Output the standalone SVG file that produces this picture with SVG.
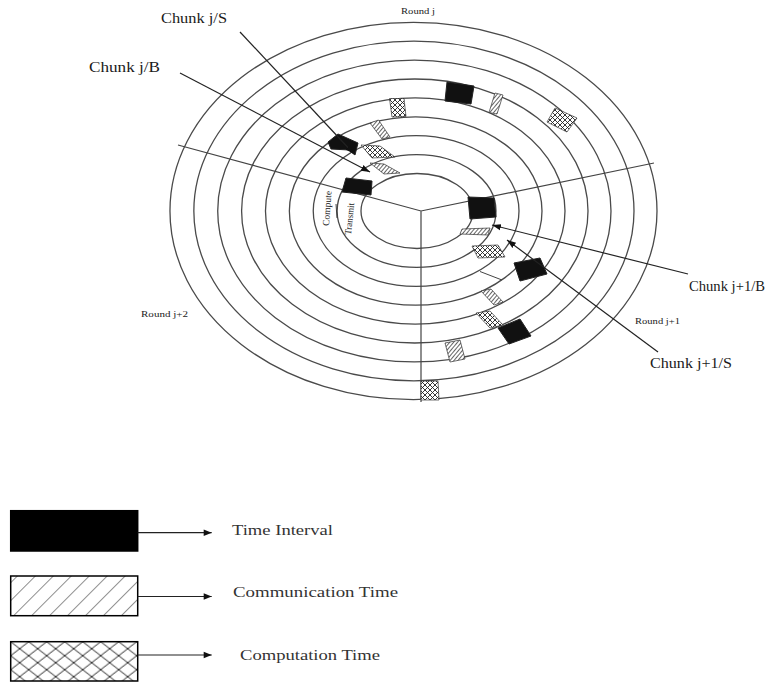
<svg xmlns="http://www.w3.org/2000/svg" width="766" height="685" viewBox="0 0 766 685">
<style>
.ring{fill:none;stroke:#4a4a4a;stroke-width:1.3}
.spoke{stroke:#444;stroke-width:1.2;fill:none}
.conn{stroke:#222;stroke-width:1.2;fill:none}
.lbl{font-family:"Liberation Serif",serif;fill:#1a1a1a}
.big{font-size:15px}
.small{font-size:8.5px}
.leg{font-size:14px;fill:#333}
.blk{fill:#111;stroke:#222;stroke-width:1}
.hat{fill:url(#hatchS);stroke:#333;stroke-width:0.7}
.crs{fill:url(#crossS);stroke:#333;stroke-width:0.7}
</style>
<defs>
<pattern id="hatchS" patternUnits="userSpaceOnUse" width="3" height="3" patternTransform="rotate(40)">
<rect width="3" height="3" fill="#fff"/>
<line x1="0" y1="0" x2="0" y2="3" stroke="#222" stroke-width="1.4"/>
</pattern>
<pattern id="crossS" patternUnits="userSpaceOnUse" width="5" height="5">
<rect width="5" height="5" fill="#fff"/>
<path d="M0,0L5,5M5,0L0,5" stroke="#222" stroke-width="0.9"/>
</pattern>
<pattern id="hatchL" patternUnits="userSpaceOnUse" width="12.7" height="12.7" patternTransform="rotate(45)">
<rect width="12.7" height="12.7" fill="#fff"/>
<line x1="0" y1="0" x2="0" y2="12.7" stroke="#222" stroke-width="1"/>
</pattern>
<pattern id="crossL" patternUnits="userSpaceOnUse" width="18" height="14" x="10.7" y="641.7">
<rect width="18" height="14" fill="#fff"/>
<path d="M0,0L18,14M18,0L0,14" stroke="#222" stroke-width="1"/>
</pattern>
<marker id="arr" viewBox="0 0 10 10" refX="10" refY="5" markerWidth="9" markerHeight="9" markerUnits="userSpaceOnUse" orient="auto">
<path d="M0,1.5L10,5L0,8.5Z" fill="#111"/>
</marker>
<marker id="arrL" viewBox="0 0 10 10" refX="10" refY="5" markerWidth="13" markerHeight="8" markerUnits="userSpaceOnUse" orient="auto">
<path d="M0,1L10,5L0,9Z" fill="#111"/>
</marker>
</defs>
<rect width="766" height="685" fill="#fff"/>

<g id="rings">
<ellipse class="ring" cx="417" cy="211" rx="56" ry="37.5"/>
<ellipse class="ring" cx="416.56" cy="211" rx="79.44" ry="56.4"/>
<ellipse class="ring" cx="416.12" cy="211" rx="102.88" ry="75.3"/>
<ellipse class="ring" cx="415.68" cy="211" rx="126.32" ry="94.2"/>
<ellipse class="ring" cx="415.24" cy="211" rx="149.76" ry="113.1"/>
<ellipse class="ring" cx="414.8" cy="211" rx="173.2" ry="132"/>
<ellipse class="ring" cx="414.36" cy="211" rx="196.64" ry="150.9"/>
<ellipse class="ring" cx="413.92" cy="211" rx="220.08" ry="169.8"/>
<ellipse class="ring" cx="413.48" cy="211" rx="243.52" ry="188.7"/>
</g>

<g id="spokes">
<path class="spoke" d="M178,145L421,211L654,163M421,211L421,402"/>
</g>

<g id="blocks">
<polygon class="blk" points="447,82 474,86 471,104 445,101"/>
<polygon class="hat" points="495,93 503,95 497,114 489,112.5"/>
<polygon class="crs" points="555,108 577,118 567,132 547,122"/>
<polygon class="crs" points="389.5,98.5 404,98.5 406,116.5 392,117"/>
<polygon class="hat" points="370,123 378.5,120 390,137 382,139"/>
<polygon class="blk" points="328,142 338,134 358,143 355,155 349,150 331,149"/>
<polygon class="crs" points="361,145 380,146 395,157 372,158"/>
<polygon class="hat" points="370,163 384,164 400,173 384,174"/>
<polygon class="blk" points="346,178 372,181 371,195 342,192"/>
<polygon class="blk" points="468,197 494,198 496,217 470,219"/>
<polygon class="hat" points="462,229 490,228 488,235 460,234"/>
<polygon class="crs" points="472,246 498,245 505,257 478,258"/>
<line x1="480" y1="271.5" x2="502" y2="280" stroke="#444" stroke-width="1"/>
<polygon class="blk" points="514,263 540,258 547,274 520,281"/>
<polygon class="hat" points="481,291 491,289 503,302 494,305"/>
<polygon class="crs" points="476,313 490,311 503,325 490,328"/>
<polygon class="blk" points="498,328 520,319 531,336 509,344"/>
<polygon class="hat" points="445,343 460,340 465,359 450,362"/>
<polygon class="crs" points="421,381 438,381 439,400 421,400"/>
</g>

<g id="ring-labels">
<text class="lbl small" x="401" y="14" textLength="34" lengthAdjust="spacingAndGlyphs">Round j</text>
<text class="lbl small" x="141" y="317" textLength="47" lengthAdjust="spacingAndGlyphs">Round j+2</text>
<text class="lbl small" x="635" y="324" textLength="45" lengthAdjust="spacingAndGlyphs">Round j+1</text>
<text class="lbl" font-size="9.5" transform="translate(329,226) rotate(-86)" textLength="35" lengthAdjust="spacingAndGlyphs">Compute</text>
<line x1="336" y1="204" x2="337" y2="218" stroke="#333" stroke-width="0.9"/>
<text class="lbl" font-size="9.5" transform="translate(351,235) rotate(-84)" textLength="32" lengthAdjust="spacingAndGlyphs">Transmit</text>
</g>

<g id="connectors">
<line class="conn" x1="240" y1="32" x2="354" y2="154" marker-end="url(#arr)"/>
<line class="conn" x1="180" y1="73" x2="370" y2="172" marker-end="url(#arr)"/>
<line class="conn" x1="688" y1="274" x2="492" y2="225" marker-end="url(#arr)"/>
<line class="conn" x1="658" y1="352" x2="507" y2="240" marker-end="url(#arr)"/>
</g>

<g id="chunk-labels">
<text class="lbl big" x="161" y="23" textLength="66" lengthAdjust="spacingAndGlyphs">Chunk j/S</text>
<text class="lbl big" x="89" y="72" textLength="71" lengthAdjust="spacingAndGlyphs">Chunk j/B</text>
<text class="lbl big" x="689" y="291" textLength="76" lengthAdjust="spacingAndGlyphs">Chunk j+1/B</text>
<text class="lbl big" x="650" y="368" textLength="82" lengthAdjust="spacingAndGlyphs">Chunk j+1/S</text>
</g>

<g id="legend-time">
<rect x="10.7" y="510.7" width="127" height="40.3" fill="#000" stroke="#000" stroke-width="1.5"/>
<line class="conn" x1="137.7" y1="532.7" x2="211.7" y2="532.7" marker-end="url(#arrL)"/>
<text class="lbl leg" x="232" y="535" textLength="101" lengthAdjust="spacingAndGlyphs">Time Interval</text>
</g>
<g id="legend-communication">
<rect x="10.7" y="576" width="127" height="39.7" fill="url(#hatchL)" stroke="#000" stroke-width="1.5"/>
<line class="conn" x1="137.7" y1="596.5" x2="211.7" y2="596.5" marker-end="url(#arrL)"/>
<text class="lbl leg" x="233" y="597" textLength="165" lengthAdjust="spacingAndGlyphs">Communication Time</text>
</g>
<g id="legend-computation">
<rect x="10.7" y="641.7" width="127" height="39.3" fill="url(#crossL)" stroke="#000" stroke-width="1.5"/>
<line class="conn" x1="137.7" y1="655" x2="211.7" y2="655" marker-end="url(#arrL)"/>
<text class="lbl leg" x="240" y="660" textLength="140" lengthAdjust="spacingAndGlyphs">Computation Time</text>
</g>
</svg>
